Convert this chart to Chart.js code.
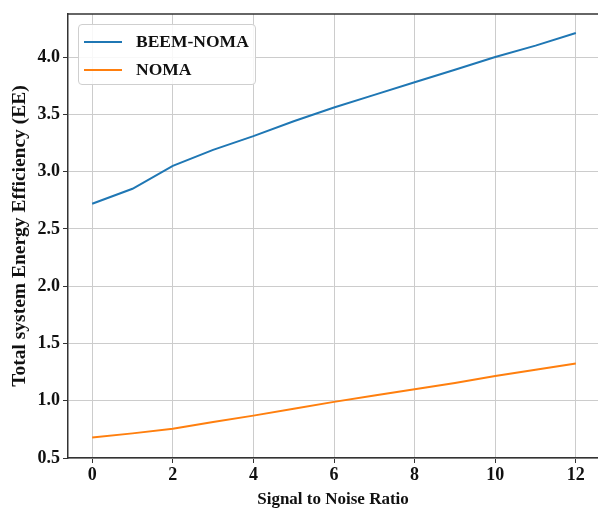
<!DOCTYPE html>
<html>
<head>
<meta charset="utf-8">
<script src="https://cdn.jsdelivr.net/npm/chart.js@4.4.1/dist/chart.umd.min.js"></script>
<style>
  html, body { margin: 0; padding: 0; background: #fff; overflow: hidden; }
  #wrap { position: relative; width: 598px; height: 510px; }
  #legend {
    position: absolute; left: 78px; top: 24px; width: 176px; height: 59px;
    border: 1px solid #cfcfcf; border-radius: 4px; background: rgba(255,255,255,0.85);
    font: bold 17.5px "Liberation Serif", serif; color: #111;
  }
  .item { position: absolute; left: 0; height: 20px; }
  .swatch { position: absolute; left: 5px; width: 38px; height: 2px; }
  .label { position: absolute; left: 57px; white-space: nowrap; line-height: 20px; top: -10px; }
</style>
</head>
<body>
<div id="wrap">
  <canvas id="myLineChart" width="598" height="510"></canvas>
  <div id="legend"></div>
</div>
<script>
// dati
const snr = [0, 1, 2, 3, 4, 5, 6, 7, 8, 9, 10, 11, 12]
const beemNoma = [2.72, 2.85, 3.05, 3.19, 3.31, 3.44, 3.56, 3.67, 3.78, 3.89, 4.0, 4.1, 4.21]
const noma = [0.68, 0.715, 0.755, 0.815, 0.87, 0.93, 0.99, 1.045, 1.1, 1.155, 1.215, 1.27, 1.325]
const seriesLabels = ['BEEM-NOMA', 'NOMA']
const seriesColors = ['#1f77b4', '#ff7f0e']

const tickFont = { family: 'Liberation Serif', weight: 'bold', size: 18 }

// bordo superiore del riquadro
const topBorder = {
  id: 'topBorder',
  afterDraw(chart) {
    const { ctx, chartArea } = chart
    ctx.save()
    ctx.strokeStyle = '#333'
    ctx.lineWidth = 1.5
    ctx.beginPath()
    ctx.moveTo(chartArea.left, chartArea.top)
    ctx.lineTo(chart.width, chartArea.top)
    ctx.stroke()
    ctx.restore()
  },
}

const ctx = document.getElementById('myLineChart').getContext('2d')

const myLineChart = new Chart(ctx, {
  type: 'line',
  data: {
    datasets: [
      {
        label: seriesLabels[0],
        data: snr.map((x, i) => ({ x: x, y: beemNoma[i] })),
        borderColor: seriesColors[0],
        borderWidth: 2,
        pointRadius: 0,
        tension: 0,
      },
      {
        label: seriesLabels[1],
        data: snr.map((x, i) => ({ x: x, y: noma[i] })),
        borderColor: seriesColors[1],
        borderWidth: 2,
        pointRadius: 0,
        tension: 0,
      },
    ],
  },
  options: {
    responsive: false,
    animation: false,
    layout: { padding: { top: 14, right: 0, left: 0, bottom: 0 } },
    plugins: {
      legend: { display: false },
      tooltip: { enabled: false },
    },
    scales: {
      x: {
        type: 'linear',
        min: -0.6,
        max: 12.55,
        ticks: { stepSize: 2, includeBounds: false, font: tickFont, color: '#111', padding: 2, maxRotation: 0 },
        grid: { color: '#cccccc', tickColor: '#333', tickLength: 5, lineWidth: 1 },
        border: { color: '#333', width: 1.5 },
        title: { display: true, text: 'Signal to Noise Ratio', font: { family: 'Liberation Serif', weight: 'bold', size: 17 }, color: '#111', padding: { top: 0, bottom: 0 } },
        afterFit(scale) { scale.height = 52 },
      },
      y: {
        type: 'linear',
        min: 0.5,
        max: 4.376,
        ticks: {
          stepSize: 0.5,
          includeBounds: false,
          font: tickFont,
          color: '#111',
          padding: 3,
          callback: (v) => v.toFixed(1),
        },
        grid: { color: '#cccccc', tickColor: '#333', tickLength: 5, lineWidth: 1 },
        border: { color: '#333', width: 1.5 },
        title: { display: true, text: 'Total system Energy Efficiency (EE)', font: { family: 'Liberation Serif', weight: 'bold', size: 19.5 }, color: '#111', padding: { top: 8, bottom: 0 } },
        afterFit(scale) { scale.width = 68 },
      },
    },
  },
  plugins: [topBorder],
})

// legenda in html
const legendBox = document.getElementById('legend')
myLineChart.data.datasets.forEach((ds, i) => {
  const item = document.createElement('div')
  item.className = 'item'
  item.style.top = (16 + i * 28) + 'px'
  const sw = document.createElement('span')
  sw.className = 'swatch'
  sw.style.background = ds.borderColor
  const lb = document.createElement('span')
  lb.className = 'label'
  lb.textContent = ds.label
  item.appendChild(sw)
  item.appendChild(lb)
  legendBox.appendChild(item)
})
</script>
</body>
</html>
